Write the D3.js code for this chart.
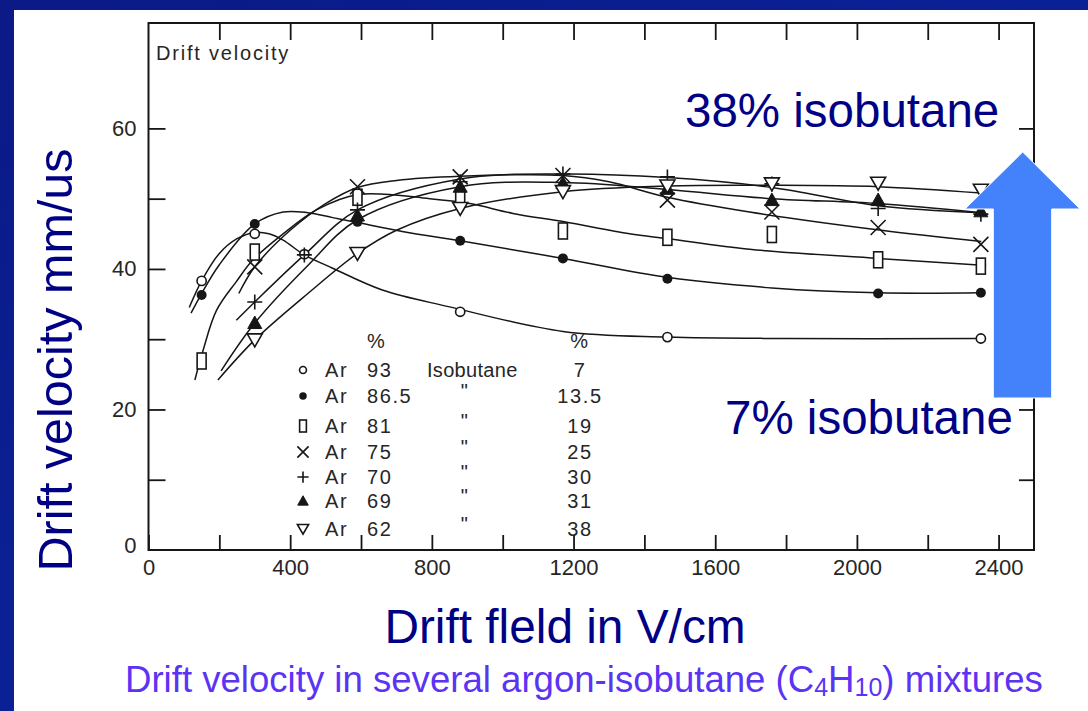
<!DOCTYPE html>
<html>
<head>
<meta charset="utf-8">
<script src="https://cdn.jsdelivr.net/npm/d3@7"></script>
<style>
  html, body { margin: 0; padding: 0; background: #ffffff; }
  svg { display: block; }
  .scan { font-family: "Liberation Sans", Arial, sans-serif; fill: #262626; }
  .slide { font-family: "Liberation Sans", Arial, sans-serif; }
</style>
</head>
<body>
<svg id="chart" width="1088" height="711"></svg>
<script>
// Argon / isobutane mixtures: argon %, isobutane %
const argonPct = ["93", "86.5", "81", "75", "70", "69", "62"];
const isoPct   = ["7", "13.5", "19", "25", "30", "31", "38"];
const symbols  = ["openCircle", "dot", "rect", "cross", "plus", "triUp", "triDown"];

// Measured drift velocity (mm/us) vs drift field (V/cm)
const iso7  = [[150, 38.3], [300, 45.0], [440, 42.1], [880, 33.9], [1465, 30.3], [2350, 30.1]];
const iso13 = [[150, 36.3], [300, 46.4], [590, 46.7], [880, 44.0], [1170, 41.5], [1465, 38.6], [2060, 36.5], [2350, 36.6]];
const iso19 = [[150, 26.9], [300, 42.4], [590, 50.2], [880, 50.0], [1170, 45.4], [1465, 44.5], [1760, 44.9], [2060, 41.3], [2350, 40.4]];
const iso25 = [[300, 40.3], [590, 51.7], [880, 53.1], [1170, 53.3], [1465, 49.8], [1760, 48.1], [2060, 45.9], [2350, 43.5]];
const iso30 = [[300, 35.3], [440, 42.0], [590, 48.4], [880, 52.4], [1170, 53.5], [1465, 53.1], [1760, 52.1], [2060, 48.6], [2350, 47.8]];
const iso31 = [[300, 32.3], [590, 47.6], [880, 51.7], [1170, 52.2], [1465, 51.4], [1760, 49.8], [2060, 49.8], [2350, 48.2]];
const iso38 = [[300, 29.9], [590, 42.2], [880, 48.6], [1170, 51.0], [1465, 51.8], [1760, 52.1], [2060, 52.2], [2350, 51.2]];

// Hand-fitted curves drawn through each data set
const fit7  = [[115, 34.5], [150, 38.3], [200, 42.2], [250, 44.3], [300, 45.2], [340, 45.0], [380, 44.1], [440, 42.0], [520, 40.1], [660, 37.0], [850, 34.6], [1170, 31.1], [1465, 30.3], [1800, 30.1], [2350, 30.1]];
const fit13 = [[120, 33.7], [150, 36.5], [200, 40.6], [300, 46.4], [380, 48.1], [450, 48.0], [520, 47.3], [590, 46.6], [720, 45.3], [880, 44.0], [1170, 41.5], [1465, 38.8], [1760, 37.3], [2060, 36.6], [2350, 36.6]];
const fit19 = [[131, 24.2], [154, 28.4], [192, 34.1], [248, 38.2], [295, 41.3], [380, 45.0], [474, 48.4], [592, 50.6], [794, 50.0], [907, 49.3], [1029, 47.9], [1174, 46.7], [1358, 45.0], [1468, 44.3], [1697, 42.8], [2059, 41.5], [2365, 40.5]];
const fit25 = [[255, 36.5], [300, 40.3], [400, 45.5], [500, 49.3], [590, 51.6], [700, 52.6], [880, 53.2], [1170, 53.3], [1300, 52.4], [1465, 50.2], [1697, 48.1], [2069, 45.5], [2351, 43.9]];
const fit30 = [[248, 32.7], [300, 35.3], [440, 42.0], [590, 48.4], [880, 52.8], [1170, 53.5], [1465, 53.0], [1760, 51.6], [2060, 49.0], [2350, 48.0]];
const fit31 = [[205, 25.5], [300, 32.3], [450, 40.5], [590, 47.0], [880, 51.7], [1170, 52.3], [1465, 51.3], [1760, 50.0], [2060, 49.3], [2350, 48.0]];
const fit38 = [[196, 24.2], [300, 29.9], [450, 36.5], [590, 42.2], [700, 45.5], [880, 48.6], [1170, 51.0], [1465, 51.8], [1760, 51.9], [2060, 51.7], [2350, 50.8]];

const series = [iso7, iso13, iso19, iso25, iso30, iso31, iso38];
const fits   = [fit7, fit13, fit19, fit25, fit30, fit31, fit38];

// Axis ticks
const xTicks = [0, 200, 400, 600, 800, 1000, 1200, 1400, 1600, 1800, 2000, 2200, 2400];
const xLabels = [0, 400, 800, 1200, 1600, 2000, 2400];
const yTicks = [0, 10, 20, 30, 40, 50, 60];
const yLabels = [0, 20, 40, 60];

const svg = d3.select("#chart");
const W = 1088, H = 711;

// Slide frame: dark blue border along top and left, white page
const defs = svg.append("defs");
const grad = defs.append("linearGradient").attr("id", "frameBlue")
  .attr("x1", "0").attr("y1", "0").attr("x2", "1").attr("y2", "1");
grad.append("stop").attr("offset", "0%").attr("stop-color", "#0b1a86");
grad.append("stop").attr("offset", "50%").attr("stop-color", "#0a2196");
grad.append("stop").attr("offset", "100%").attr("stop-color", "#071479");
svg.append("rect").attr("width", W).attr("height", H).attr("fill", "url(#frameBlue)");
svg.append("rect").attr("x", 14).attr("y", 10).attr("width", W - 14).attr("height", H - 10).attr("fill", "#ffffff");

const x = d3.scaleLinear().domain([0, 2500]).range([148.5, 1034]);
const y = d3.scaleLinear().domain([0, 75]).range([550, 23]);

const ink = "#161616";

// Axes with inward ticks
const gx = svg.append("g").attr("transform", `translate(0,${y(0)})`)
  .call(d3.axisBottom(x).tickValues(xTicks).tickSize(-15).tickPadding(9)
    .tickFormat(d => xLabels.includes(d) ? String(d) : ""));
const gTop = svg.append("g").attr("transform", `translate(0,${y(75)})`)
  .call(d3.axisTop(x).tickValues(xTicks.slice(1)).tickSize(-17).tickFormat(""));
const gy = svg.append("g").attr("transform", `translate(${x(0)},0)`)
  .call(d3.axisLeft(y).tickValues(yTicks.slice(1)).tickSize(-17).tickPadding(12)
    .tickFormat(d => yLabels.includes(d) ? String(d) : ""));
const gyLabel0 = svg.append("g").attr("transform", `translate(${x(0)},0)`)
  .call(d3.axisLeft(y).tickValues([0]).tickSize(0).tickPadding(12));
const gRight = svg.append("g").attr("transform", `translate(${x(2500)},0)`)
  .call(d3.axisRight(y).tickValues(yTicks.slice(1)).tickSize(-15).tickFormat(""));

[gx, gTop, gy, gyLabel0, gRight].forEach(g => {
  g.select(".domain").remove();
  g.selectAll(".tick line").attr("stroke", ink).attr("stroke-width", 1.8);
  g.selectAll(".tick text").attr("class", "scan").attr("font-size", 22).attr("fill", "#333");
});
gyLabel0.selectAll(".tick text").attr("dy", "0.1em");

// Plot frame
svg.append("rect")
  .attr("x", x(0)).attr("y", y(75))
  .attr("width", x(2500) - x(0)).attr("height", y(0) - y(75))
  .attr("fill", "none").attr("stroke", ink).attr("stroke-width", 2);

svg.append("text").attr("class", "scan")
  .attr("x", 156).attr("y", 60).attr("font-size", 20).attr("letter-spacing", 1.8)
  .text("Drift velocity");

// Fitted curves
const line = d3.line().x(d => x(d[0])).y(d => y(d[1])).curve(d3.curveCatmullRom.alpha(0.5));
svg.append("g").selectAll("path").data(fits).join("path")
  .attr("d", line).attr("fill", "none").attr("stroke", ink).attr("stroke-width", 1.5);

// Marker drawing
function drawSymbol(g, kind, cx, cy, s) {
  const sw = 1.6;
  switch (kind) {
    case "openCircle":
      g.append("circle").attr("cx", cx).attr("cy", cy).attr("r", 4.6 * s)
        .attr("fill", "#fff").attr("stroke", ink).attr("stroke-width", sw);
      break;
    case "dot":
      g.append("circle").attr("cx", cx).attr("cy", cy).attr("r", 5 * s).attr("fill", ink);
      break;
    case "rect":
      g.append("rect").attr("x", cx - 4.5 * s).attr("y", cy - 8 * s)
        .attr("width", 9 * s).attr("height", 16 * s)
        .attr("fill", "#fff").attr("stroke", ink).attr("stroke-width", sw);
      break;
    case "cross": {
      const r = 7.5 * s;
      g.append("path").attr("d", `M${cx - r},${cy - r}L${cx + r},${cy + r}M${cx - r},${cy + r}L${cx + r},${cy - r}`)
        .attr("stroke", ink).attr("stroke-width", sw).attr("fill", "none");
      break;
    }
    case "plus": {
      const r = 7.5 * s;
      g.append("path").attr("d", `M${cx - r},${cy}L${cx + r},${cy}M${cx},${cy - r}L${cx},${cy + r}`)
        .attr("stroke", ink).attr("stroke-width", sw).attr("fill", "none");
      break;
    }
    case "triUp":
      g.append("path").attr("d", `M${cx},${cy - 7 * s}L${cx + 7 * s},${cy + 5.5 * s}L${cx - 7 * s},${cy + 5.5 * s}Z`)
        .attr("fill", ink).attr("stroke", ink).attr("stroke-width", 1);
      break;
    case "triDown":
      g.append("path").attr("d", `M${cx - 7.5 * s},${cy - 6 * s}L${cx + 7.5 * s},${cy - 6 * s}L${cx},${cy + 7 * s}Z`)
        .attr("fill", "#fff").attr("stroke", ink).attr("stroke-width", sw);
      break;
  }
}

const gm = svg.append("g");
series.forEach((pts, i) => {
  pts.forEach(p => drawSymbol(gm, symbols[i], x(p[0]), y(p[1]), 1));
});

// Legend table
const rowBase = [377, 403, 433, 459, 484, 508, 536];
const lg = svg.append("g").attr("class", "scan").attr("font-size", 20).attr("letter-spacing", 1.6);
lg.append("text").attr("x", 367).attr("y", 348).text("%");
lg.append("text").attr("x", 580).attr("y", 348).attr("text-anchor", "middle").text("%");
argonPct.forEach((a, i) => {
  drawSymbol(svg, symbols[i], 303, rowBase[i] - 7, 0.75);
  lg.append("text").attr("x", 325).attr("y", rowBase[i]).text("Ar");
  lg.append("text").attr("x", 367).attr("y", rowBase[i]).text(a);
  lg.append("text").attr("x", 580).attr("y", rowBase[i]).attr("text-anchor", "middle").text(isoPct[i]);
  if (i === 0) {
    lg.append("text").attr("x", 427).attr("y", rowBase[i]).attr("letter-spacing", 0.3).text("Isobutane");
  } else {
    lg.append("text").attr("x", 465).attr("y", rowBase[i] - 5).attr("text-anchor", "middle").text("\"");
  }
});

// Slide annotations
const navy = "#000085";
svg.append("text").attr("class", "slide").attr("x", 685).attr("y", 127)
  .attr("font-size", 47.5).attr("fill", navy).text("38% isobutane");
svg.append("text").attr("class", "slide").attr("x", 725).attr("y", 434)
  .attr("font-size", 47.5).attr("fill", navy).text("7% isobutane");

// Upward arrow
svg.append("path")
  .attr("d", "M1022.7,152 L1080,209 L1051.7,209 L1051.7,398 L993.3,398 L993.3,209 L965,209 Z")
  .attr("fill", "#4482fb").attr("stroke", "#ffffff").attr("stroke-width", 1);

// Axis titles and caption
svg.append("text").attr("class", "slide")
  .attr("transform", "translate(72,360) rotate(-90)")
  .attr("text-anchor", "middle").attr("font-size", 48.5).attr("fill", navy)
  .text("Drift velocity mm/us");
svg.append("text").attr("class", "slide").attr("x", 565).attr("y", 643)
  .attr("text-anchor", "middle").attr("font-size", 47.8).attr("fill", navy)
  .text("Drift fleld in V/cm");

const cap = svg.append("text").attr("class", "slide").attr("x", 125).attr("y", 692)
  .attr("font-size", 36.6).attr("fill", "#5b33f4");
cap.append("tspan").text("Drift velocity in several argon-isobutane (C");
cap.append("tspan").attr("font-size", 25).attr("dy", 4).text("4");
cap.append("tspan").attr("dy", -4).text("H");
cap.append("tspan").attr("font-size", 25).attr("dy", 4).text("10");
cap.append("tspan").attr("dy", -4).text(") mixtures");
</script>
</body>
</html>
